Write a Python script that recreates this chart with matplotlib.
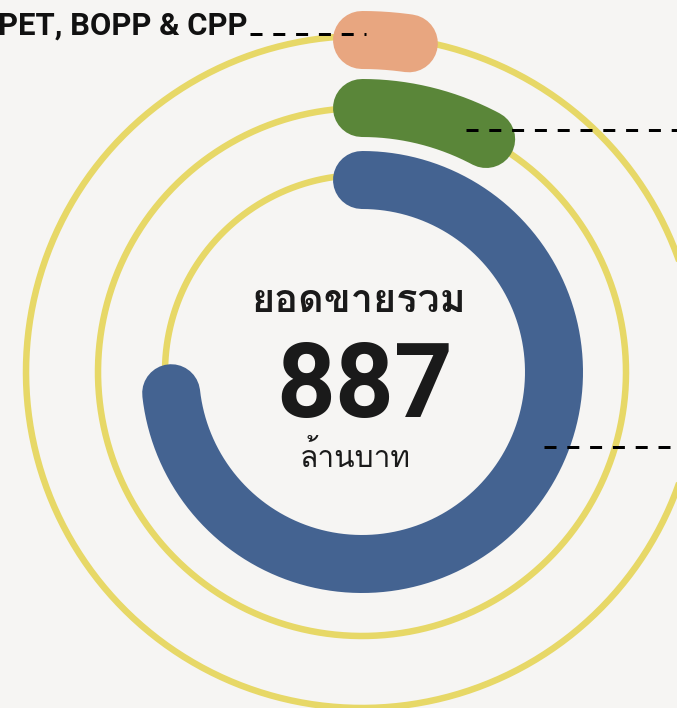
import numpy as np
import matplotlib
matplotlib.use("Agg")
import matplotlib.pyplot as plt
from matplotlib import font_manager
from matplotlib.ft2font import FT2Font

# sales by film type (million baht)
segments = ["PET, BOPP & CPP", "green", "blue"]
values = [24, 83, 780]
total_sales = 887
title_th = "ยอดขายรวม"
unit_th = "ล้านบาท"

colors = ["#e8a680", "#5a8639", "#446391"]
ring_color = "#e7d867"
bg = "#f6f5f3"


def find_thai_font():
    # pick the first installed font that actually has Thai glyphs
    for f in font_manager.fontManager.ttflist:
        try:
            if 0x0E22 in FT2Font(f.fname).get_charmap():
                return f.name
        except Exception:
            pass
    return "DejaVu Sans"


thai_font = find_thai_font()

W, H, dpi = 677, 708, 100
fig = plt.figure(figsize=(W / dpi, H / dpi), dpi=dpi, facecolor=bg)
ax = fig.add_axes([0, 0, 1, 1])
ax.set_xlim(0, W)
ax.set_ylim(H, 0)
ax.set_aspect("equal")
ax.axis("off")
ax.set_facecolor(bg)

cx, cy = 362, 372
radii = [332, 264, 192]        # orange outer, green middle, blue inner
full_scale = 1065              # value that would close a full circle
px = 72 / dpi                  # pixels -> points


def arc_xy(r, deg0, deg1, n=400):
    t = np.radians(np.linspace(deg0, deg1, n))
    return cx + r * np.sin(t), cy - r * np.cos(t)


# thin guide rings
for r in [336, 264, 197]:
    x, y = arc_xy(r, 0, 360)
    ax.plot(x, y, color=ring_color, lw=6.5 * px, zorder=1)

# value arcs, clockwise from 12 o'clock
for r, v, c in zip(radii, values, colors):
    sweep = v / full_scale * 360
    x, y = arc_xy(r, 0, sweep)
    ax.plot(x, y, color=c, lw=58 * px, solid_capstyle="round", zorder=2)

# leader lines
dash = dict(color="black", lw=3 * px, dashes=(4, 3.6), zorder=3)
ax.plot([250, 366], [34, 34], **dash)
ax.plot([466, 677], [130, 130], **dash)
ax.plot([544, 677], [447, 447], **dash)

ax.text(248, 35, segments[0], ha="right", va="baseline", fontsize=22.3,
        fontweight="bold", family=["Roboto", "DejaVu Sans"], color="#111111")

# centre label
ax.text(cx - 3, 302, title_th, ha="center", va="center", fontsize=28.5,
        fontweight="bold", family=[thai_font, "DejaVu Sans"], color="#1a1a1a")
ax.text(cx + 3, 389, f"{total_sales}", ha="center", va="center", fontsize=74,
        fontweight="bold", family=["Roboto", "DejaVu Sans"], color="#1a1a1a")
ax.text(cx - 7, 457, unit_th, ha="center", va="center", fontsize=21.5,
        family=[thai_font, "DejaVu Sans"], color="#1a1a1a")

fig.savefig("out.png", dpi=dpi, facecolor=bg)
